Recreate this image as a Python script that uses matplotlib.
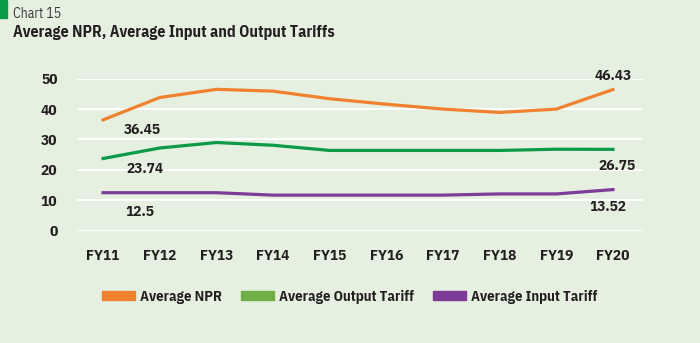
import matplotlib
matplotlib.use("Agg")
import matplotlib.pyplot as plt
from matplotlib.patches import Patch, Rectangle

years = ["FY11", "FY12", "FY13", "FY14", "FY15", "FY16", "FY17", "FY18", "FY19", "FY20"]
npr = [36.45, 43.8, 46.5, 45.9, 43.4, 41.6, 40.0, 38.9, 40.0, 46.43]
output_tariff = [23.74, 27.2, 29.0, 28.1, 26.4, 26.4, 26.4, 26.4, 26.8, 26.75]
input_tariff = [12.5, 12.5, 12.5, 11.7, 11.7, 11.7, 11.7, 12.1, 12.1, 13.52]

bg = "#e5f0e1"
c_npr = "#f0812f"
c_out = "#0a9a48"
c_out_leg = "#6fae47"
c_in = "#7d3c98"
txt = "#231f20"

plt.rcParams["font.family"] = ["IBM Plex Sans Condensed", "DejaVu Sans"]

fig = plt.figure(figsize=(7, 3.43), dpi=100, facecolor=bg)
ax = fig.add_axes([0.11, 0.3274, 0.8086, 0.4432], facecolor=bg)

# header strip and titles
fig.patches.append(Rectangle((0, 1 - 18 / 343), 7 / 700, 18 / 343, transform=fig.transFigure,
                             color=c_out, zorder=5))
fig.text(13 / 700, 1 - 14 / 343, "Chart 15", fontsize=10, color="#3a3a3a", va="center")
fig.text(13 / 700, 1 - 32 / 343, "Average NPR, Average Input and Output Tariffs",
         fontsize=11.4, fontweight="bold", color=txt, va="center")

x = list(range(len(years)))
ax.plot(x, npr, color=c_npr, lw=2.3, clip_on=False, zorder=3)
ax.plot(x, output_tariff, color=c_out, lw=2.3, clip_on=False, zorder=3)
ax.plot(x, input_tariff, color=c_in, lw=2.3, clip_on=False, zorder=3)

ax.set_xlim(-0.46, 9.53)
ax.set_ylim(0, 50)
ax.set_yticks([0, 10, 20, 30, 40, 50])
ax.set_xticks(x)
ax.set_xticklabels(years)
ax.grid(axis="y", color="white", lw=1.3)
ax.set_axisbelow(True)
for s in ax.spines.values():
    s.set_visible(False)
ax.tick_params(length=0, labelsize=11, labelcolor=txt)
ax.tick_params(axis="y", pad=14)
ax.tick_params(axis="x", pad=13)
for lab in ax.get_xticklabels() + ax.get_yticklabels():
    lab.set_fontweight("bold")

# end-point value labels
labels = [
    (0, npr[0], (28, -7.3)),
    (0, output_tariff[0], (30, -7.8)),
    (0, input_tariff[0], (26.6, -13.7)),
    (9, npr[9], (0, 9.8)),
    (9, output_tariff[9], (2.7, -12)),
    (9, input_tariff[9], (-3.6, -12.3)),
]
for xi, v, off in labels:
    ax.annotate(f"{v:g}", (xi, v), xytext=off, textcoords="offset points",
                ha="center", va="center", fontsize=11, fontweight="bold", color=txt)

handles = [Patch(color=c_npr, label="Average NPR"),
           Patch(color=c_out_leg, label="Average Output Tariff"),
           Patch(color=c_in, label="Average Input Tariff")]
leg = fig.legend(handles=handles, loc="center", bbox_to_anchor=(0.5, 1 - 297 / 343),
                 ncol=3, frameon=False, fontsize=10.5, handlelength=2.26, handleheight=0.59,
                 handletextpad=0.34, columnspacing=1.3)
for t in leg.get_texts():
    t.set_fontweight("bold")
    t.set_color(txt)

fig.savefig("out.png", dpi=100, facecolor=bg)
